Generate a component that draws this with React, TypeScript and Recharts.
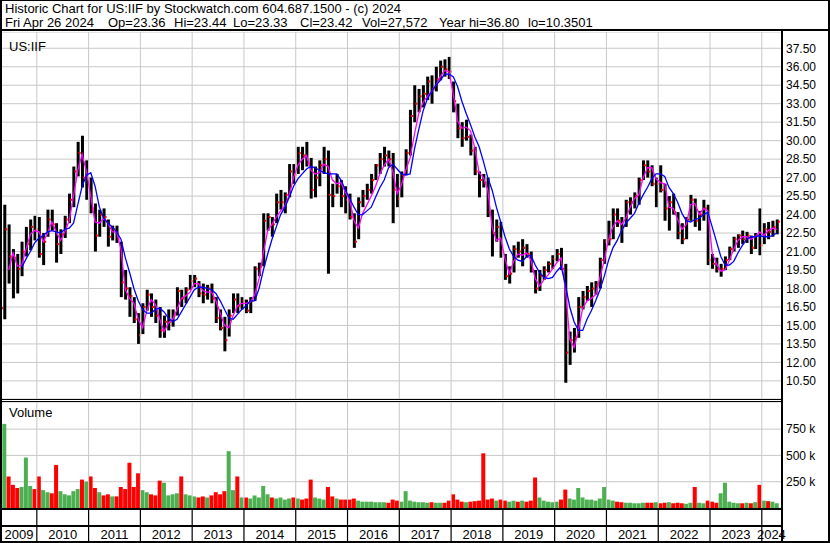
import React from "react";
import { ComposedChart, Bar, Line, XAxis, YAxis, CartesianGrid, ReferenceLine, Cell } from "recharts";

// monthly bars, Apr 2009 (index 0) .. Apr 2024 (index 180)
const yearLabels = ["2009", "2010", "2011", "2012", "2013", "2014", "2015", "2016", "2017", "2018", "2019", "2020", "2021", "2022", "2023", "2024"];
const priceTicks = [10.5, 12, 13.5, 15, 16.5, 18, 19.5, 21, 22.5, 24, 25.5, 27, 28.5, 30, 31.5, 33, 34.5, 36, 37.5];
const volumeTicks = [250000, 500000, 750000];

const highs = [
  17.0, 24.8, 23.2, 21.2, 20.8, 21.8, 23.0, 23.6, 23.9,
  23.8, 22.5, 24.4, 24.4, 23.3, 22.8, 23.9, 25.7, 27.9, 29.9, 30.4, 28.4,
  27.0, 24.9, 24.4, 24.5, 23.6, 23.1, 23.1, 21.8, 19.5, 18.1, 17.3, 16.0,
  16.8, 17.9, 17.6, 17.1, 16.5, 15.8, 16.3, 16.3, 18.1, 17.9, 18.1, 19.1,
  19.1, 18.6, 18.4, 18.3, 18.4, 17.3, 16.3, 15.7, 16.3, 17.6, 17.6, 17.3,
  17.1, 17.3, 19.8, 20.1, 24.1, 24.1, 23.8, 25.7, 26.0, 25.8, 28.1, 28.1,
  29.5, 29.5, 29.9, 28.6, 27.9, 28.4, 29.5, 29.2, 26.5, 27.3, 26.8, 26.3,
  25.7, 24.1, 25.4, 26.0, 26.5, 27.3, 28.1, 29.0, 29.5, 29.2, 29.0, 27.3,
  27.5, 29.3, 32.5, 34.5, 34.2, 34.5, 35.2, 35.3, 36.0, 36.5, 36.6, 36.8,
  34.8, 33.0, 31.5, 31.7, 30.5, 29.5, 27.5, 27.3, 27.0, 24.4, 23.6, 23.4,
  20.8, 19.8, 21.5, 21.8, 22.0, 21.6, 21.0, 19.5, 19.5, 19.8, 20.2, 20.7,
  21.2, 21.3, 20.0, 14.5, 14.8, 17.3, 17.8, 18.2, 18.5, 18.6, 20.5, 22.0,
  23.5, 24.5, 24.5, 23.8, 25.2, 25.4, 25.8, 27.0, 28.4, 28.4, 28.0, 27.0,
  28.0, 26.5, 25.5, 25.7, 24.2, 23.3, 23.8, 25.6, 25.3, 24.3, 25.2, 24.8,
  20.8, 20.5, 20.0, 20.6, 21.4, 22.2, 22.4, 22.7, 22.6, 22.3, 22.5, 24.5,
  23.3, 23.4, 23.5, 23.6,
];

const lows = [
  13.8, 15.5, 18.4, 17.2, 17.6, 19.0, 20.6, 21.1, 21.9,
  20.5, 19.9, 22.2, 22.7, 20.1, 20.8, 22.1, 23.3, 24.6, 27.1, 26.2, 25.2,
  24.1, 21.0, 22.2, 23.0, 21.4, 21.9, 21.7, 17.3, 17.1, 15.7, 15.2, 13.5,
  14.3, 16.2, 15.7, 15.2, 14.0, 14.0, 14.6, 14.9, 15.8, 16.5, 16.8, 17.9,
  18.1, 17.3, 16.8, 17.1, 16.8, 15.2, 14.6, 12.9, 14.1, 16.0, 16.0, 16.3,
  16.0, 16.0, 17.0, 19.0, 19.8, 22.7, 22.2, 23.3, 24.4, 24.1, 25.4, 26.5,
  27.3, 27.6, 27.9, 25.3, 25.4, 26.3, 27.3, 19.2, 24.6, 25.7, 24.6, 24.1,
  23.6, 21.3, 22.0, 24.6, 25.2, 25.7, 26.8, 27.3, 27.9, 27.9, 23.3, 24.6,
  25.4, 27.2, 28.8, 31.5, 32.3, 32.7, 33.3, 33.0, 34.0, 34.9, 35.2, 35.0,
  32.3, 30.2, 29.5, 30.0, 28.8, 27.2, 25.4, 26.2, 23.8, 20.6, 21.8, 20.5,
  18.7, 18.4, 19.3, 20.5, 19.8, 20.5, 19.3, 17.6, 17.8, 18.7, 19.3, 19.6,
  20.2, 19.5, 10.35, 11.8, 12.8, 14.0, 16.3, 17.0, 16.5, 17.5, 18.0, 20.0,
  21.5, 22.0, 23.0, 21.7, 23.0, 24.0, 24.5, 24.8, 26.8, 27.0, 26.3, 24.6,
  25.8, 23.5, 22.7, 24.0, 22.0, 21.6, 22.0, 23.5, 23.0, 22.7, 23.5, 19.9,
  19.6, 19.3, 18.96, 19.5, 20.3, 21.0, 21.3, 21.6, 21.7, 20.8, 21.2, 20.7,
  21.6, 22.0, 22.2, 22.4,
];

const closes = [
  16.4, 22.8, 20.6, 20.5, 19.6, 21.0, 21.6, 23.0, 22.8,
  20.8, 21.8, 23.6, 23.2, 21.6, 22.4, 23.6, 25.2, 27.5, 29.0, 27.0, 27.0,
  24.5, 22.3, 24.0, 23.8, 22.2, 22.8, 22.0, 18.5, 18.0, 17.4, 15.5, 14.2,
  16.5, 17.5, 16.5, 15.8, 14.6, 15.3, 15.3, 15.8, 17.8, 17.2, 17.9, 18.6,
  18.8, 17.6, 17.5, 18.0, 17.2, 15.6, 14.8, 13.8, 15.8, 17.1, 16.6, 17.0,
  16.2, 17.0, 19.6, 19.8, 23.5, 23.8, 23.2, 25.0, 25.0, 25.6, 27.5, 27.2,
  29.0, 28.8, 28.2, 26.0, 27.0, 28.0, 28.5, 25.6, 25.5, 26.3, 25.5, 25.2,
  23.8, 21.8, 25.0, 25.5, 26.0, 26.8, 28.0, 28.5, 28.8, 28.5, 26.0, 25.3,
  27.2, 29.0, 32.0, 33.0, 33.6, 33.8, 34.8, 34.2, 35.0, 36.0, 35.8, 35.6,
  33.2, 31.0, 30.2, 30.3, 29.2, 27.5, 26.8, 26.6, 24.2, 22.5, 23.0, 21.0,
  19.0, 19.2, 21.2, 21.0, 21.3, 20.8, 19.5, 18.0, 19.0, 19.5, 20.0, 20.4,
  20.8, 19.6, 12.8, 13.8, 14.0, 16.5, 17.3, 17.8, 18.0, 18.3, 20.3, 21.8,
  22.0, 24.0, 23.5, 23.0, 25.0, 25.0, 25.5, 26.8, 28.0, 27.5, 26.5, 26.5,
  26.0, 24.5, 25.0, 24.2, 22.5, 22.0, 23.6, 25.2, 23.5, 24.0, 24.5, 20.3,
  20.0, 19.6, 19.6, 20.3, 21.2, 22.0, 22.3, 22.0, 22.3, 21.3, 22.3, 21.5,
  22.8, 22.6, 23.0, 23.42,
];

// short moving average (magenta)
const fastMa = [
  null, null, 19.5, 20.9, 19.8, 19.9, 21.2, 22.4, 22.7,
  22.6, 21.8, 22.5, 23.4, 22.6, 21.9, 22.6, 23.5, 25.5, 27.6, 28.9, 27.5,
  25.5, 23.4, 23.3, 23.7, 23.3, 22.6, 22.6, 21.2, 17.9, 17.2, 16.8, 15.5,
  14.8, 16.2, 17.1, 16.7, 15.5, 14.5, 15.2, 15.5, 16.3, 17.2, 17.4, 17.7,
  18.4, 18.4, 17.8, 17.7, 17.7, 17.0, 16.0, 15.0, 14.8, 15.8, 16.6, 16.8,
  16.8, 16.9, 17.5, 18.8, 20.9, 22.7, 23.2, 23.8, 24.3, 24.7, 25.6, 27.0,
  28.0, 28.5, 28.8, 27.6, 27.3, 27.4, 28.1, 27.9, 26.8, 26.5, 26.6, 25.8,
  25.2, 23.5, 22.9, 24.1, 24.8, 25.5, 26.3, 27.3, 28.0, 28.5, 27.5, 25.7,
  26.4, 27.6, 28.6, 30.5, 32.2, 33.1, 33.6, 34.0, 34.5, 35.2, 35.7, 35.6,
  33.8, 31.6, 31.0, 31.1, 30.8, 29.4, 27.4, 27.0, 26.0, 23.0, 21.9, 22.1,
  20.4, 19.2, 20.2, 20.8, 20.7, 20.9, 20.3, 18.8, 18.2, 18.7, 19.1, 19.6,
  20.1, 20.5, 17.9, 13.9, 13.2, 14.6, 16.4, 17.0, 17.2, 17.5, 18.9, 20.3,
  22.0, 23.0, 23.5, 23.2, 23.7, 24.6, 25.3, 25.6, 27.0, 27.8, 27.8, 26.9,
  26.6, 26.5, 24.6, 24.5, 23.6, 22.8, 23.2, 24.8, 24.9, 24.0, 24.5, 24.3,
  20.9, 20.0, 19.4, 19.5, 20.3, 21.2, 21.9, 22.2, 22.2, 22.0, 22.2, 22.6,
  22.3, 22.7, 22.9, 22.8,
];

// long moving average (blue)
const slowMa = [
  null, null, null, null, null, 19.7, 20.4, 21.0, 21.7,
  22.1, 22.3, 22.6, 22.7, 22.6, 22.5, 22.8, 22.9, 23.3, 24.8, 26.3, 27.2,
  27.4, 26.3, 24.6, 23.7, 23.3, 23.0, 22.6, 22.0, 20.5, 19.3, 18.0, 17.0,
  16.3, 16.0, 16.0, 16.3, 16.4, 16.1, 15.6, 15.3, 15.5, 16.1, 16.7, 17.3,
  17.9, 18.1, 18.1, 18.0, 17.9, 17.6, 17.0, 16.3, 15.6, 15.5, 15.9, 16.3,
  16.6, 17.0, 17.0, 18.0, 19.5, 20.8, 22.0, 23.0, 24.0, 24.6, 25.4, 26.3,
  26.9, 27.3, 27.7, 27.9, 27.8, 27.6, 27.4, 27.3, 27.3, 27.3, 26.8, 26.0,
  25.3, 24.6, 24.0, 24.0, 24.3, 24.6, 25.4, 26.2, 26.8, 27.8, 28.1, 27.7,
  27.3, 27.2, 27.3, 29.3, 30.9, 32.4, 33.4, 34.0, 34.5, 34.9, 35.4, 35.4,
  35.2, 34.4, 33.2, 32.2, 31.3, 30.3, 29.5, 28.3, 27.0, 26.0, 24.6, 23.4,
  22.2, 21.2, 20.6, 20.3, 20.2, 20.6, 20.7, 19.9, 19.3, 18.9, 18.8, 18.9,
  19.4, 19.8, 18.3, 16.5, 15.3, 14.6, 14.6, 15.5, 16.2, 17.0, 17.9, 19.0,
  20.3, 21.3, 21.9, 22.7, 23.3, 23.7, 24.1, 24.9, 25.6, 26.2, 26.9, 27.3,
  27.3, 27.1, 26.2, 25.7, 25.0, 24.1, 23.5, 23.4, 23.6, 23.7, 24.0, 24.2,
  23.0, 21.8, 20.6, 19.9, 19.9, 20.2, 20.9, 21.5, 22.0, 22.2, 22.2, 22.3,
  22.2, 22.2, 22.3, 22.5,
];

// volume in thousands
const volumesK = [
  600, 800, 300, 220, 190, 200, 480, 210, 180,
  300, 170, 150, 140, 410, 160, 130, 120, 160, 180, 270, 250,
  300, 190, 150, 120, 130, 110, 110, 200, 180, 430, 200, 330,
  170, 150, 130, 120, 260, 240, 120, 130, 140, 300, 130, 120,
  110, 100, 110, 100, 120, 150, 130, 160, 540, 170, 300, 100,
  100, 90, 120, 100, 210, 130, 100, 90, 100, 80, 90, 100,
  90, 80, 90, 270, 100, 90, 80, 200, 110, 90, 80, 80,
  80, 90, 70, 60, 60, 60, 55, 55, 55, 50, 80, 70,
  60, 160, 70, 60, 55, 55, 50, 55, 50, 50, 50, 70,
  130, 80, 60, 55, 60, 65, 70, 520, 80, 90, 70, 80,
  70, 60, 70, 60, 70, 60, 70, 290, 100, 70, 60, 55,
  60, 80, 175, 90, 80, 190, 100, 80, 80, 70, 90, 200,
  80, 70, 60, 55, 50, 50, 45, 45, 50, 50, 50, 55,
  45, 50, 55, 45, 50, 45, 40, 50, 200, 50, 45, 70,
  60, 50, 140, 240, 60, 50, 45, 45, 50, 45, 55, 220,
  70, 65, 60, 45,
];

const FONT = '"Liberation Sans", Arial, Helvetica, sans-serif';
const X_DOMAIN: [number, number] = [0.2, 180.95];
const GRID = "#c8c8c8";
const GREEN = "#4caf50";
const RED = "#ff0000";

// index of each January boundary (Apr 2009 = 0)
const yearStarts = yearLabels.slice(1).map((_, k) => 8.5 + 12 * k);
const yearCentres = yearLabels.map((_, k) => {
  if (k === 0) return (X_DOMAIN[0] + yearStarts[0]) / 2;
  if (k === yearLabels.length - 1) return (yearStarts[k - 1] + X_DOMAIN[1]) / 2;
  return yearStarts[k - 1] + 6;
});
const axisTicks = [...yearStarts, ...yearCentres].sort((a, b) => a - b);

const rows = highs.map((h, i) => ({
  t: i,
  high: h,
  low: lows[i],
  close: closes[i],
  range: [lows[i], h],
  fast: fastMa[i],
  slow: slowMa[i],
  vol: volumesK[i] * 1000,
}));

function OhlcShape(props: any) {
  const { x, y, width, height, payload } = props;
  if (x == null || !payload) return null;
  const top = Math.min(y, y + height);
  const h = Math.max(Math.abs(height), 1);
  const cx = x + width / 2;
  const span = payload.high - payload.low;
  const cy = span > 0 ? top + ((payload.high - payload.close) / span) * h : top;
  return (
    <g>
      <rect x={cx - 1.5} y={top} width={3} height={h} fill="#000" />
      <rect x={cx + 0.5} y={cy - 1} width={2} height={2} fill={RED} />
    </g>
  );
}

function YearTick(props: any) {
  const { x, y, payload } = props;
  const v = payload.value;
  if (yearStarts.includes(v)) {
    return <line x1={x} x2={x} y1={y + 2} y2={y + 33} stroke="#000" strokeWidth={1.2} />;
  }
  const k = yearCentres.indexOf(v);
  return (
    <text x={x} y={y + 31} textAnchor="middle" fontSize={13} fontFamily={FONT} fill="#000">
      {yearLabels[k]}
    </text>
  );
}

function Rule({ left, top, width, height }: { left: number; top: number; width: number; height: number }) {
  return <div style={{ position: "absolute", left, top, width, height, background: "#000" }} />;
}

function Label({ left, top, text }: { left: number; top: number; text: string }) {
  return (
    <div style={{ position: "absolute", left, top, fontSize: 13, lineHeight: "15px", whiteSpace: "pre", color: "#000" }}>
      {text}
    </div>
  );
}

export default function App() {
  return (
    <div
      style={{
        position: "absolute",
        left: 0,
        top: 0,
        width: 830,
        height: 543,
        background: "#fff",
        overflow: "hidden",
        fontFamily: FONT,
      }}
    >
      <Label left={5} top={1} text="Historic Chart for US:IIF by Stockwatch.com 604.687.1500 - (c) 2024" />
      <Label left={5} top={15} text="Fri Apr 26 2024" />
      <Label left={108} top={15} text="Op=23.36" />
      <Label left={174} top={15} text="Hi=23.44" />
      <Label left={233} top={15} text="Lo=23.33" />
      <Label left={300} top={15} text="Cl=23.42" />
      <Label left={362} top={15} text="Vol=27,572" />
      <Label left={439} top={15} text="Year hi=36.80" />
      <Label left={528} top={15} text="lo=10.3501" />

      <div style={{ position: "absolute", left: 0, top: 32 }}>
        <ComposedChart width={830} height={367} data={rows} margin={{ top: 0, right: 0, bottom: 0, left: 1 }}>
          <CartesianGrid vertical={false} stroke={GRID} />
          <XAxis dataKey="t" type="number" domain={X_DOMAIN} allowDataOverflow hide />
          <YAxis
            orientation="right"
            domain={[9.03, 38.82]}
            ticks={priceTicks}
            interval={0}
            allowDataOverflow
            width={49}
            axisLine={false}
            tickLine={false}
            tickSize={0}
            tickMargin={5}
            tickFormatter={(v: number) => v.toFixed(2)}
            tick={{ fontSize: 12, fill: "#000", fontFamily: FONT }}
          />
          {yearStarts.map((v) => (
            <ReferenceLine key={v} x={v} stroke={GRID} strokeWidth={1} />
          ))}
          <Bar dataKey="range" barSize={3} isAnimationActive={false} shape={(p: any) => <OhlcShape {...p} />} />
          <Line dataKey="fast" stroke="#ff00ff" strokeWidth={1.3} dot={false} activeDot={false} isAnimationActive={false} />
          <Line dataKey="slow" stroke="#0000ff" strokeWidth={1.3} dot={false} activeDot={false} isAnimationActive={false} />
        </ComposedChart>
      </div>

      <div style={{ position: "absolute", left: 0, top: 402 }}>
        <ComposedChart width={830} height={141} data={rows} margin={{ top: 0, right: 0, bottom: 0, left: 1 }}>
          <CartesianGrid vertical={false} stroke={GRID} />
          <XAxis
            dataKey="t"
            type="number"
            domain={X_DOMAIN}
            allowDataOverflow
            ticks={axisTicks}
            interval={0}
            height={35}
            axisLine={false}
            tickLine={false}
            tickSize={0}
            tickMargin={0}
            tick={(p: any) => <YearTick {...p} />}
          />
          <YAxis
            orientation="right"
            domain={[0, 1008000]}
            ticks={volumeTicks}
            interval={0}
            allowDataOverflow
            width={49}
            axisLine={false}
            tickLine={false}
            tickSize={0}
            tickMargin={5}
            tickFormatter={(v: number) => `${v / 1000} k`}
            tick={{ fontSize: 12, fill: "#000", fontFamily: FONT }}
          />
          {yearStarts.map((v) => (
            <ReferenceLine key={v} x={v} stroke={GRID} strokeWidth={1} />
          ))}
          <Bar dataKey="vol" barSize={4} isAnimationActive={false}>
            {rows.map((r, i) => (
              <Cell key={i} fill={i === 0 || r.close >= closes[i - 1] ? GREEN : RED} />
            ))}
          </Bar>
        </ComposedChart>
      </div>

      <Label left={9} top={39} text="US:IIF" />
      <Label left={9} top={405} text="Volume" />

      {/* frame */}
      <Rule left={0} top={0} width={830} height={1} />
      <Rule left={0} top={29} width={830} height={2} />
      <Rule left={0} top={0} width={2} height={543} />
      <Rule left={828} top={0} width={2} height={543} />
      <Rule left={781} top={29} width={2} height={514} />
      <Rule left={0} top={399} width={783} height={1} />
      <Rule left={0} top={401} width={783} height={1} />
      <Rule left={0} top={508} width={783} height={2} />
      <Rule left={0} top={525} width={783} height={2} />
      <Rule left={0} top={541} width={830} height={2} />
    </div>
  );
}
